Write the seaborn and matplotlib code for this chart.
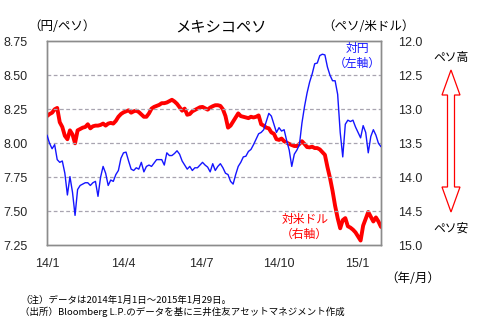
import matplotlib
matplotlib.use("Agg")
import matplotlib.pyplot as plt
import numpy as np
import pandas as pd
import seaborn as sns
from matplotlib.patches import Polygon

# Sampling dates: every third calendar day, 2014-01-01 .. 2015-01-29
dates = pd.date_range("2014-01-01", "2015-01-29", freq="3D")

# Yen per peso (left axis)
jpy_per_mxn = [
    8.06, 8.00, 7.96, 7.99, 7.88, 7.86, 7.87, 7.78, 7.62, 7.755,
    7.64, 7.47, 7.66, 7.69, 7.70, 7.71, 7.71, 7.69, 7.71, 7.72,
    7.61, 7.75, 7.83, 7.78, 7.69, 7.73, 7.72, 7.77, 7.80, 7.89,
    7.93, 7.935, 7.87, 7.81, 7.80, 7.82, 7.81, 7.86, 7.79, 7.83,
    7.84, 7.83, 7.855, 7.88, 7.88, 7.88, 7.84, 7.93, 7.91, 7.91,
    7.925, 7.945, 7.92, 7.87, 7.84, 7.81, 7.83, 7.80, 7.82, 7.82,
    7.84, 7.86, 7.84, 7.825, 7.79, 7.85, 7.80, 7.83, 7.85, 7.82,
    7.78, 7.77, 7.72, 7.70, 7.77, 7.83, 7.86, 7.90, 7.905, 7.94,
    7.955, 7.99, 8.03, 8.07, 8.08, 8.10, 8.16, 8.22, 8.20, 8.14,
    8.08, 8.115, 8.09, 8.10, 8.02, 7.95, 7.83, 7.92, 7.95, 7.99,
    8.15, 8.27, 8.37, 8.45, 8.51, 8.585, 8.59, 8.645, 8.655, 8.65,
    8.56, 8.50, 8.46, 8.46, 8.36, 8.08, 7.90, 8.14, 8.17, 8.16,
    8.17, 8.12, 8.08, 8.04, 8.13, 8.08, 7.93, 8.05, 8.10, 8.06,
    8.00, 7.975,
]

# Pesos per US dollar (right axis, inverted)
mxn_per_usd = [
    13.10, 13.07, 13.05, 13.00, 12.98, 13.19, 13.26, 13.39, 13.44, 13.31,
    13.37, 13.50, 13.31, 13.29, 13.27, 13.26, 13.22, 13.28, 13.25, 13.24,
    13.24, 13.23, 13.21, 13.24, 13.21, 13.20, 13.21, 13.17, 13.11, 13.07,
    13.045, 13.03, 13.015, 13.05, 13.03, 13.02, 13.04, 13.075, 13.11, 13.11,
    13.06, 12.99, 12.965, 12.95, 12.935, 12.91, 12.91, 12.90, 12.88, 12.86,
    12.885, 12.92, 12.97, 13.02, 12.99, 13.08, 13.07, 13.03, 13.01, 12.99,
    12.97, 12.965, 12.985, 13.005, 12.975, 12.955, 12.94, 12.94, 12.95, 13.00,
    13.10, 13.27, 13.24, 13.18, 13.12, 13.06, 13.10, 13.11, 13.12, 13.13,
    13.11, 13.12, 13.11, 13.09, 13.22, 13.24, 13.27, 13.28, 13.34, 13.36,
    13.44, 13.45, 13.43, 13.47, 13.49, 13.51, 13.525, 13.54, 13.54, 13.51,
    13.47, 13.51, 13.555, 13.56, 13.55, 13.57, 13.57, 13.59, 13.63, 13.67,
    13.85, 14.01, 14.20, 14.42, 14.60, 14.75, 14.63, 14.60, 14.72, 14.74,
    14.77, 14.81, 14.87, 14.93, 14.71, 14.61, 14.51, 14.58, 14.65, 14.59,
    14.65, 14.73,
]

left_ticks = [7.25, 7.50, 7.75, 8.00, 8.25, 8.50, 8.75]
right_ticks = [12.0, 12.5, 13.0, 13.5, 14.0, 14.5, 15.0]
month_ticks = ["2014-01-01", "2014-04-01", "2014-07-01", "2014-10-01", "2015-01-01"]
month_labels = ["14/1", "14/4", "14/7", "14/10", "15/1"]

df = pd.DataFrame({"date": dates, "jpy": jpy_per_mxn, "usd": mxn_per_usd})

sns.set_style("white")
plt.rcParams["font.family"] = ["Liberation Sans", "Noto Sans CJK JP", "DejaVu Sans"]
cjk = ["Noto Sans CJK JP", "DejaVu Sans"]

W, H = 482, 326
fig = plt.figure(figsize=(W / 100, H / 100), dpi=100)
ax = fig.add_axes([47 / W, 1 - 245.3 / H, (381 - 47) / W, (245.3 - 41.3) / H])
ax2 = ax.twinx()

grid_col = "#a8a4b0"
for v in left_ticks[1:-1]:
    ax.axhline(v, color=grid_col, lw=0.9, ls=(0, (3, 2)), zorder=0)

sns.lineplot(data=df, x="date", y="jpy", ax=ax, color="#1515ff", lw=1.0, zorder=3)
sns.lineplot(data=df, x="date", y="usd", ax=ax2, color="#ff0000", lw=2.8, zorder=3)
ax.set_zorder(ax2.get_zorder() + 1)
ax.patch.set_visible(False)

ax.set_xlim(pd.Timestamp("2014-01-01"), pd.Timestamp("2015-01-29"))
ax.set_ylim(7.25, 8.75)
ax2.set_ylim(15.0, 12.0)
ax.set_yticks(left_ticks)
ax.set_yticklabels([f"{v:.2f}" for v in left_ticks])
ax2.set_yticks(right_ticks)
ax2.set_yticklabels([f"{v:.1f}" for v in right_ticks])
ax.set_xticks(pd.to_datetime(month_ticks))
ax.set_xticklabels(month_labels)
ax.set_xlabel("")
ax.set_ylabel("")
ax2.set_ylabel("")

ax.tick_params(axis="x", direction="in", length=3, width=0.8, color="#909090",
               labelsize=9, pad=9)
ax.tick_params(axis="y", length=0, labelsize=9, pad=14)
ax2.tick_params(axis="y", length=0, labelsize=9, pad=12)
for a in (ax, ax2):
    for s in a.spines.values():
        s.set_color("#8c8c8c")
        s.set_linewidth(1.0)

def ftext(x, y, s, size, color="black", ha="center"):
    fig.text(x / W, 1 - y / H, s, fontsize=size, color=color, ha=ha, va="center",
             family=cjk)

ftext(221, 27, "メキシコペソ", 11)
ftext(62, 27, "（円/ペソ）", 9)
ftext(368, 27, "（ペソ/米ドル）", 9)
ftext(413, 278, "（年/月）", 9)
ftext(357, 48, "対円", 8.5, "#1515ff")
ftext(357, 63, "（左軸）", 8.5, "#1515ff")
ftext(305, 219, "対米ドル", 8.5, "#ff0000")
ftext(304, 234, "（右軸）", 8.5, "#ff0000")
ftext(451, 57, "ペソ高", 8.5)
ftext(451, 228, "ペソ安", 8.5)
ftext(20, 300, "（注）データは2014年1月1日～2015年1月29日。", 6.8, ha="left")
ftext(20, 312, "（出所）Bloomberg L.P.のデータを基に三井住友アセットマネジメント作成", 6.8, ha="left")

# Hollow double-headed arrow between ペソ高 and ペソ安
arrow_px = [(451, 70), (460, 95), (454.5, 95), (454.5, 187), (460, 187), (451, 212),
            (442, 187), (447.5, 187), (447.5, 95), (442, 95)]
arrow = Polygon([(x / W, 1 - y / H) for x, y in arrow_px], closed=True,
                transform=fig.transFigure, facecolor="white", edgecolor="#ff0000", lw=0.9)
fig.patches.append(arrow)

fig.savefig("out.png", dpi=100)
